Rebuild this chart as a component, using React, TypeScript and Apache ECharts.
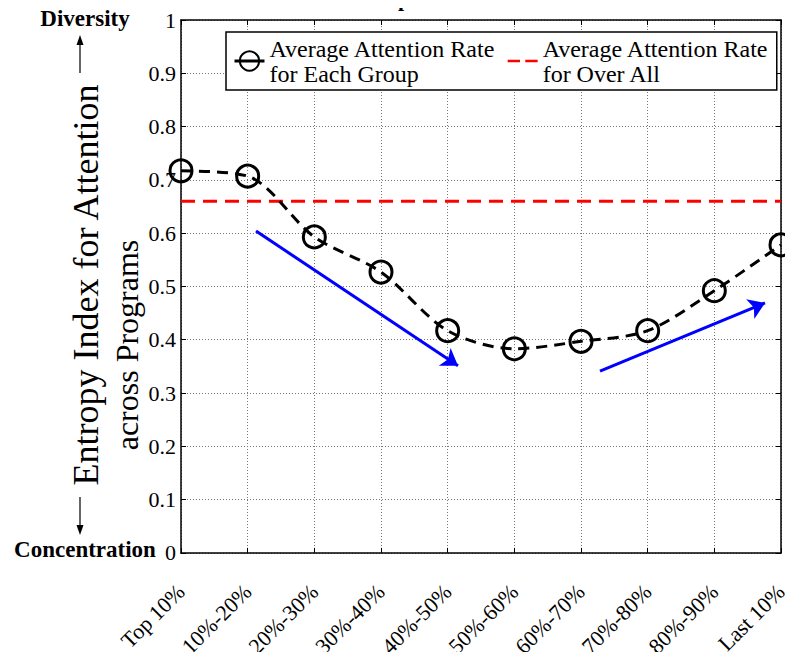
import React, { useEffect, useRef, useState } from "react";
import * as echarts from "echarts";

const categories = ["Top 10%", "10%-20%", "20%-30%", "30%-40%", "40%-50%", "50%-60%", "60%-70%", "70%-80%", "80%-90%", "Last 10%"];
const groupValues = [0.717, 0.707, 0.593, 0.527, 0.417, 0.383, 0.397, 0.417, 0.492, 0.578];
const overallValues = [0.66, 0.66, 0.66, 0.66, 0.66, 0.66, 0.66, 0.66, 0.66, 0.66];
const arrowDown = [[1.125, 0.604], [4.155, 0.351]];
const arrowUp = [[6.285, 0.341], [8.76, 0.469]];
const seriesNames = ["Average Attention Rate\nfor Each Group", "Average Attention Rate\nfor Over All"];

const FONT = "Liberation Serif";

export default function App() {
  const ref = useRef<HTMLDivElement>(null);
  const [dbg, setDbg] = useState("");
  useEffect(() => {
    if (!ref.current) return;
    const chart = echarts.init(ref.current, null, { renderer: "svg" });
    const axisLine = { show: true, onZero: false, lineStyle: { color: "#000", width: 1.5 } };
    const innerTick = { show: true, inside: true, length: 5, lineStyle: { color: "#000", width: 1 } };
    chart.setOption({
      animation: false,
      backgroundColor: "#fff",
      textStyle: { fontFamily: FONT },
      grid: { left: 181, right: 12, top: 20, bottom: 107, containLabel: false },
      legend: {
        data: [
          { name: seriesNames[0], lineStyle: { type: "solid", width: 3 } },
          { name: seriesNames[1], icon: "path://M0,0H14V3H0Z M20,0H34V3H20Z" },
        ],
        left: 226,
        top: 32,
        orient: "horizontal",
        itemGap: 12,
        itemWidth: 30,
        itemHeight: 24,
        padding: [4, 8, 4, 7],
        borderColor: "#000",
        borderWidth: 1.5,
        backgroundColor: "#fff",
        textStyle: { fontFamily: FONT, fontSize: 24, color: "#000", lineHeight: 25 },
      },
      xAxis: [
        {
          type: "category",
          data: categories,
          boundaryGap: false,
          position: "bottom",
          axisLine,
          axisTick: innerTick,
          splitLine: { show: true, lineStyle: { color: "#777", type: [1, 2], width: 1 } },
          axisLabel: { rotate: 45, margin: 35, fontFamily: FONT, fontSize: 22, color: "#000" },
        },
        { type: "value", min: 0, max: 9, interval: 1, show: false, position: "bottom" },
        {
          type: "category",
          data: categories,
          boundaryGap: false,
          position: "top",
          axisLine,
          axisTick: innerTick,
          axisLabel: { show: false },
          splitLine: { show: false },
        },
      ],
      yAxis: [
        {
          type: "value",
          min: 0,
          max: 1,
          interval: 0.1,
          position: "left",
          axisLine,
          axisTick: innerTick,
          splitLine: { show: true, lineStyle: { color: "#777", type: [1, 2], width: 1 } },
          axisLabel: {
            margin: 5,
            fontFamily: FONT,
            fontSize: 22,
            color: "#000",
            formatter: (v: number) => (v === 0 ? "0" : v === 1 ? "1" : v.toFixed(1)),
          },
        },
        {
          type: "value",
          min: 0,
          max: 1,
          interval: 0.1,
          position: "right",
          axisLine,
          axisTick: innerTick,
          axisLabel: { show: false },
          splitLine: { show: false },
        },
      ],
      series: [
        {
          name: seriesNames[1],
          type: "line",
          data: overallValues,
          symbol: "none",
          lineStyle: { color: "#ff0000", width: 3, type: [14, 8] },
          itemStyle: { color: "#ff0000" },
          z: 3,
        },
        {
          name: seriesNames[0],
          type: "line",
          data: groupValues,
          smooth: 0.3,
          symbol: "circle",
          symbolSize: 22,
          lineStyle: { color: "#000", width: 3, type: [11, 7] },
          itemStyle: { color: "rgba(0,0,0,0)", borderColor: "#000", borderWidth: 3 },
          z: 4,
        },
        {
          name: "arrows",
          type: "line",
          data: [],
          xAxisIndex: 1,
          markLine: {
            silent: true,
            symbol: ["none", "arrow"],
            symbolSize: 16,
            label: { show: false },
            lineStyle: { color: "#0000ff", width: 3, type: "solid" },
            data: [
              [{ coord: arrowDown[0] }, { coord: arrowDown[1] }],
              [{ coord: arrowUp[0] }, { coord: arrowUp[1] }],
            ],
          },
          z: 5,
        },
      ],
      graphic: [
        {
          type: "text",
          x: 86,
          y: 285,
          rotation: Math.PI / 2,
          style: { text: "Entropy Index for Attention", fontFamily: FONT, fontSize: 36, fill: "#000", textAlign: "center", textVerticalAlign: "middle" },
        },
        {
          type: "text",
          x: 127,
          y: 345,
          rotation: Math.PI / 2,
          style: { text: "across Programs", fontFamily: FONT, fontSize: 32, fill: "#000", textAlign: "center", textVerticalAlign: "middle" },
        },
        {
          type: "text",
          x: 85,
          y: 18,
          style: { text: "Diversity", fontFamily: FONT, fontWeight: "bold", fontSize: 23, fill: "#000", textAlign: "center", textVerticalAlign: "middle" },
        },
        {
          type: "text",
          x: 85,
          y: 549,
          style: { text: "Concentration", fontFamily: FONT, fontWeight: "bold", fontSize: 23, fill: "#000", textAlign: "center", textVerticalAlign: "middle" },
        },
        { type: "line", shape: { x1: 80, y1: 73, x2: 80, y2: 40 }, style: { stroke: "#000", lineWidth: 1.2 } },
        { type: "polygon", shape: { points: [[80, 35], [76.5, 45], [83.5, 45]] }, style: { fill: "#000" } },
        { type: "line", shape: { x1: 80, y1: 497, x2: 80, y2: 530 }, style: { stroke: "#000", lineWidth: 1.2 } },
        { type: "polygon", shape: { points: [[80, 535], [76.5, 525], [83.5, 525]] }, style: { fill: "#000" } },
        {
          type: "text",
          x: 404,
          y: -13,
          style: { text: "p", fontFamily: FONT, fontWeight: "bold", fontSize: 22, fill: "#000", textAlign: "center", textVerticalAlign: "top" },
        },
      ],
    });
    // read back the rendered texts (forces a style pass) and store them off-screen
    const texts = ref.current.querySelectorAll("text");
    const parts: string[] = [];
    texts.forEach((t) => {
      parts.push(t.outerHTML.slice(0, 120) + " " + getComputedStyle(t).fontFamily);
    });
    setDbg(parts.slice(0, 6).join("\n"));
    return () => chart.dispose();
  }, []);
  return (
    <div style={{ position: "relative" }}>
      <div ref={ref} style={{ width: 793, height: 660, margin: -8 }} />
      <pre
        aria-hidden="true"
        style={{
          position: "absolute",
          left: 0,
          top: 700,
          width: 780,
          whiteSpace: "pre-wrap",
          fontSize: 10,
          color: "#fff",
          margin: 0,
          fontFamily: "DejaVu Sans Mono",
        }}
      >
        {dbg}
      </pre>
    </div>
  );
}
